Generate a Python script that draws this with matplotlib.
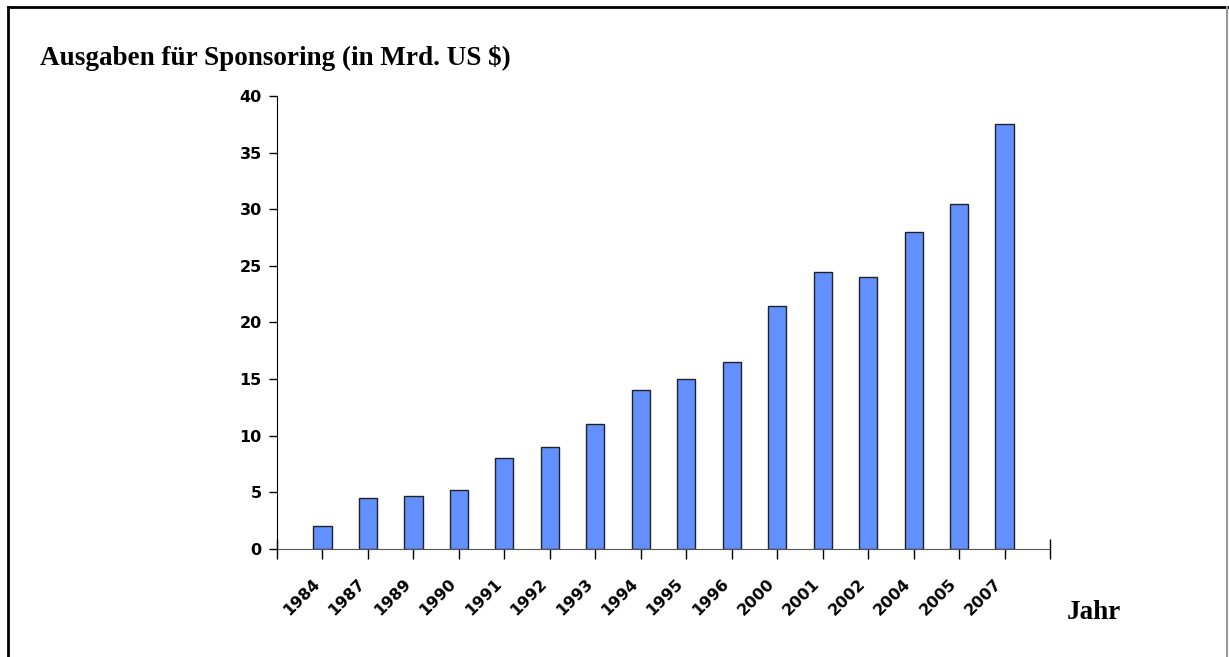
import matplotlib.pyplot as plt
from matplotlib.lines import Line2D
import numpy as np

# data
years = ['1984', '1987', '1989', '1990', '1991', '1992', '1993', '1994',
         '1995', '1996', '2000', '2001', '2002', '2004', '2005', '2007']
spend = [2, 4.5, 4.7, 5.2, 8, 9, 11, 14, 15, 16.5, 21.5, 24.5, 24, 28, 30.5, 37.5]

title_txt = 'Ausgaben für Sponsoring (in Mrd. US $)'
xlabel_txt = 'Jahr'

fig = plt.figure(figsize=(12.29, 6.57), dpi=100)
ax = fig.add_axes([0.2254, 0.1644, 0.629, 0.6895])

x = np.arange(len(years))
ax.bar(x, spend, width=0.4, color='#6290FF', edgecolor='#222222', linewidth=1, zorder=2)

ax.set_xlim(-1, len(years))
ax.set_ylim(0, 40)
ax.set_yticks(range(0, 41, 5))
ax.set_xticks(x)
# va='bottom' moves the slanted labels a bit left of their ticks
ax.set_xticklabels(years, rotation=45, ha='right', va='bottom', rotation_mode='anchor',
                   fontfamily='DejaVu Sans', fontweight='bold', fontsize=11.5)
for lbl in ax.get_yticklabels():
    lbl.set_fontfamily('DejaVu Sans')
    lbl.set_fontweight('bold')
    lbl.set_fontsize(11.5)

ax.spines['top'].set_visible(False)
ax.spines['right'].set_visible(False)
ax.spines['left'].set_color('black')
ax.spines['bottom'].set_color('#555555')
ax.tick_params(axis='y', direction='out', length=6, width=1, pad=5)
ax.tick_params(axis='x', direction='inout', length=14, width=1, pad=20)
# end ticks of x axis
ax.plot([-1, len(years)], [0, 0], ls='none', marker='|', ms=14, color='black',
        clip_on=False, zorder=3)

fig.text(0.0325, 0.901, title_txt, fontfamily='Liberation Serif', fontweight='bold',
         fontsize=19.5, va='baseline', ha='left')
fig.text(0.868, 0.058, xlabel_txt, fontfamily='Liberation Serif', fontweight='bold',
         fontsize=19.5, va='baseline', ha='left')

# frame around figure
fig.add_artist(Line2D([0.0068, 0.0068], [0, 0.989], color='black', lw=2, transform=fig.transFigure))
fig.add_artist(Line2D([0.0068, 0.9995], [0.989, 0.989], color='black', lw=2, transform=fig.transFigure))
fig.add_artist(Line2D([0.9985, 0.9985], [0, 0.989], color='#999999', lw=1.5, transform=fig.transFigure))

fig.savefig('out.png', dpi=100)
